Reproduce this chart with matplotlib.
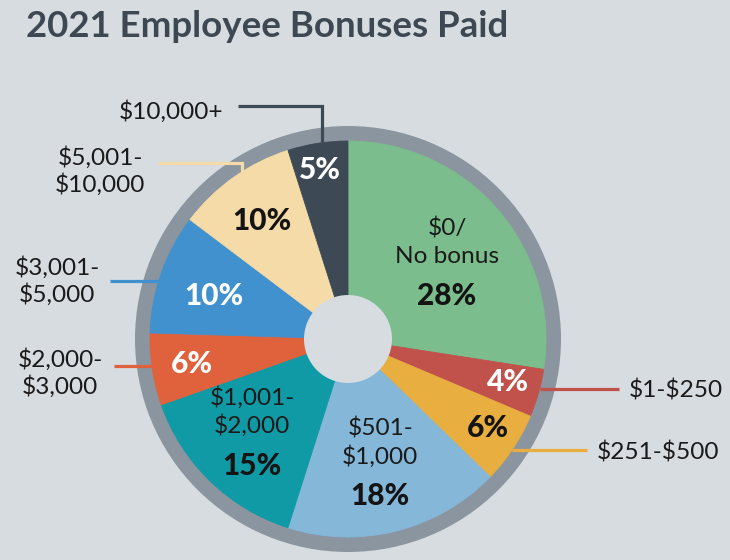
import numpy as np
import matplotlib
matplotlib.use("Agg")
import matplotlib.pyplot as plt
from matplotlib.patches import Circle

plt.rcParams['text.parse_math'] = False

# ---------------- data ----------------
categories = ["$0/\nNo bonus", "$1-$250", "$251-$500", "$501-\n$1,000", "$1,001-\n$2,000",
              "$2,000-\n$3,000", "$3,001-\n$5,000", "$5,001-\n$10,000", "$10,000+"]
values = [28, 4, 6, 18, 15, 6, 10, 10, 5]
title = "2021 Employee Bonuses Paid"

# ---------------- style ----------------
colors = ["#7bbd8c", "#c1514b", "#e8ae40", "#85b7d9", "#0f9aa5",
          "#e0623d", "#4191cf", "#f5dba7", "#3d4a56"]
pct_colors = ["#141414", "white", "#141414", "#141414", "#141414",
              "white", "white", "#141414", "white"]
name_inside = [True, False, False, True, True, False, False, False, False]
label_frac = [0.627, 0.837, 0.838, 0.652, 0.682, 0.798, 0.711, 0.737, 0.863]
label_shift = [-3.5, 0.9, 1.1, 0.3, -1.2, 0.3, 1.6, 0.8, 0.6]

BG = "#d7dce0"
RING = "#8a959f"
TXT = "#1a1a1a"
W, H = 730, 560
CX, CY = 348, H - 339
R, R_RING, R_HOLE = 198, 213, 44

# outside labels: (text x, first baseline y (px from top), ha, line y, line free end x, elbow x or None)
outside = {
    1: (629, 398, "left", 389, 619, None),
    2: (597, 460, "left", 450, 587, None),
    5: (60, 367, "center", 366, 114, None),
    6: (57, 275, "center", 281, 110, None),
    7: (100, 165, "center", 163, 158, 242),
    8: (223, 119, "right", 106, 238, 322),
}

fig = plt.figure(figsize=(W / 100, H / 100), dpi=100, facecolor=BG)
ax = fig.add_axes([0, 0, 1, 1])
ax.set_facecolor(BG)

ax.add_patch(Circle((CX, CY), R_RING, facecolor=RING, edgecolor="none", zorder=0.5))
wedges, _ = ax.pie(values, colors=colors, startangle=90, counterclock=False,
                   center=(CX, CY), radius=R,
                   wedgeprops=dict(linewidth=0.6, antialiased=True))
for w, c in zip(wedges, colors):
    w.set_edgecolor(c)
ax.add_patch(Circle((CX, CY), R_HOLE, facecolor=BG, edgecolor="none", zorder=5))

ax.set_xlim(0, W)
ax.set_ylim(0, H)
ax.set_aspect("equal")
ax.axis("off")

LBL_FONT = dict(family=["Lato", "DejaVu Sans"], fontsize=17.6, color=TXT)
PCT_FONT = dict(family=["Lato", "DejaVu Sans"], fontsize=21.5, fontweight="black")

for i, (w, v) in enumerate(zip(wedges, values)):
    mid = np.deg2rad((w.theta1 + w.theta2) / 2 + label_shift[i])
    r = label_frac[i] * R
    x = CX + r * np.cos(mid)
    y = CY + r * np.sin(mid)
    if name_inside[i]:
        l1, l2 = categories[i].split("\n")
        ax.text(x, y + 36, l1, ha="center", va="center", zorder=6, **LBL_FONT)
        ax.text(x, y + 8, l2, ha="center", va="center", zorder=6, **LBL_FONT)
        ax.text(x, y - 32, f"{v}%", ha="center", va="center", color=pct_colors[i],
                zorder=6, **PCT_FONT)
    else:
        ax.text(x, y, f"{v}%", ha="center", va="center", color=pct_colors[i],
                zorder=6, **PCT_FONT)

# leader lines and outside labels
for i, (tx, tb, ha, ly, lx, ex) in outside.items():
    yl = H - ly
    if ex is None:
        dy = yl - CY
        dx = np.sqrt(R ** 2 - dy ** 2)
        xe = CX + dx if lx > CX else CX - dx
        ax.plot([lx, xe], [yl, yl], color=colors[i], lw=2.3, solid_capstyle="butt", zorder=4)
    else:
        dx = ex - CX
        ye = CY + np.sqrt(R ** 2 - dx ** 2)
        ax.plot([lx, ex, ex], [yl, yl, ye], color=colors[i], lw=2.3,
                solid_capstyle="butt", solid_joinstyle="miter", zorder=4)
    for k, line in enumerate(categories[i].split("\n")):
        ax.text(tx, H - (tb + 27 * k), line, ha=ha, va="baseline", zorder=6, **LBL_FONT)

# title, fitted to reference width
t = fig.text(26 / W, 1 - 37 / H, title, ha="left", va="baseline", color="#3d4852",
             family=["Lato", "DejaVu Sans"], fontweight="bold", fontsize=24)
fig.canvas.draw()
bb = t.get_window_extent()
t.set_fontsize(24 * 483 / bb.width)

fig.savefig("out.png", dpi=100, facecolor=BG)
